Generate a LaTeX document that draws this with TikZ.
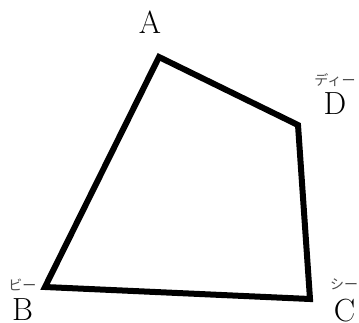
\documentclass[tikz,border=0pt]{standalone}
\usepackage{fontspec}
\newfontfamily\jpfont{Noto Sans CJK JP}
\usetikzlibrary{positioning}
\tikzset{
  vlabel/.style={font=\fontsize{16}{17}\selectfont, inner sep=0pt},
  ruby/.style={font=\jpfont\fontsize{7}{8}\selectfont, text=black!70, inner sep=0pt},
  side/.style={line width=3pt, line join=miter},
}
\begin{document}
\begin{tikzpicture}[x=0.5pt,y=-0.5pt]
  \useasboundingbox (0,0) rectangle (359,322);
  % corners of the quadrilateral
  \coordinate (a) at (159,57);
  \coordinate (d) at (298,125);
  \coordinate (c) at (310,299);
  \coordinate (b) at (45,287);
  \draw[side] (a) -- (d) -- (c) -- (b) -- cycle;
  % letters with their readings
  \node[vlabel] (la) at (150,22.5) {A};
  \node[ruby] (ra) at (150,-7) {エー};
  \node[vlabel] (ld) at (335,103.5) {D};
  \node[ruby] (rd) at (335,80) {ディー};
  \node[vlabel] (lb) at (22.5,310) {B};
  \node[ruby] (rb) at (22.5,285) {ビー};
  \node[vlabel] (lc) at (344.5,311) {C};
  \node[ruby] (rc) at (344,284) {シー};
\end{tikzpicture}
\end{document}
